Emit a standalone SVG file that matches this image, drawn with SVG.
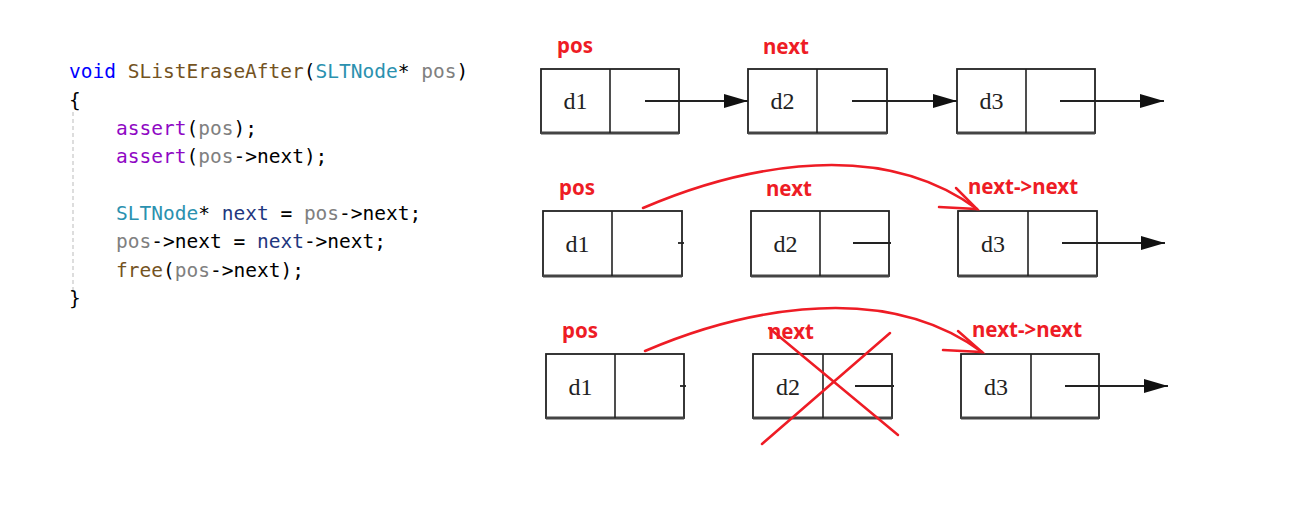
<svg xmlns="http://www.w3.org/2000/svg" width="1306" height="514" viewBox="0 0 1306 514">
<style>
.code{font-family:"DejaVu Sans Mono","Liberation Mono",monospace;font-size:19.5px;fill:#000;}
.kw{fill:#0000ff}.fn{fill:#74531f}.ty{fill:#2b91af}.pa{fill:#808080}.ma{fill:#8f08c4}.lv{fill:#1f377f}
.lbl{font-family:"Noto Sans","Liberation Sans",sans-serif;font-weight:bold;font-size:20.5px;fill:#ee1c25;}
.box{fill:#fff;stroke:#222;stroke-width:1.8;}
.shadow{stroke:#444;stroke-width:3;}
.div{stroke:#222;stroke-width:1.6;}
.dt{font-family:"Liberation Serif",serif;font-size:24px;fill:#222;text-anchor:middle;}
.ptr{stroke:#222;stroke-width:1.8;fill:none;}
.red{stroke:#ee1c25;stroke-width:2.5;fill:none;stroke-linecap:round;}
</style>
<defs>
<marker id="ah" markerUnits="userSpaceOnUse" markerWidth="26" markerHeight="16" refX="24" refY="8" orient="auto">
<polygon points="0,1 24,8 0,15" fill="#111"/>
</marker>
</defs>
<rect width="1306" height="514" fill="#fff"/>

<g id="code">
<line x1="73" y1="112" x2="73" y2="292" stroke="#bbb" stroke-width="1" stroke-dasharray="4,3"/>
<text class="code" x="69" y="78"><tspan class="kw">void</tspan> <tspan class="fn">SListEraseAfter</tspan>(<tspan class="ty">SLTNode</tspan>* <tspan class="pa">pos</tspan>)</text>
<text class="code" x="69" y="107">{</text>
<text class="code" x="116" y="135"><tspan class="ma">assert</tspan>(<tspan class="pa">pos</tspan>);</text>
<text class="code" x="116" y="163"><tspan class="ma">assert</tspan>(<tspan class="pa">pos</tspan>-&gt;next);</text>
<text class="code" x="116" y="220"><tspan class="ty">SLTNode</tspan>* <tspan class="lv">next</tspan> = <tspan class="pa">pos</tspan>-&gt;next;</text>
<text class="code" x="116" y="248"><tspan class="pa">pos</tspan>-&gt;next = <tspan class="lv">next</tspan>-&gt;next;</text>
<text class="code" x="116" y="277"><tspan class="fn">free</tspan>(<tspan class="pa">pos</tspan>-&gt;next);</text>
<text class="code" x="69" y="305">}</text>
</g>

<!-- Row 1 -->
<g id="r1n1">
<rect class="box" x="541" y="69" width="138" height="64"/>
<line class="shadow" x1="541" y1="133" x2="679" y2="133"/>
<line class="div" x1="610" y1="69" x2="610" y2="133"/>
<text class="dt" x="575.5" y="109">d1</text>
<text class="lbl" x="557" y="53">pos</text>
</g>
<g id="r1n2">
<rect class="box" x="748" y="69" width="139" height="64"/>
<line class="shadow" x1="748" y1="133" x2="887" y2="133"/>
<line class="div" x1="817" y1="69" x2="817" y2="133"/>
<text class="dt" x="782.5" y="109">d2</text>
<text class="lbl" x="763" y="54">next</text>
</g>
<g id="r1n3">
<rect class="box" x="957" y="69" width="138" height="64"/>
<line class="shadow" x1="957" y1="133" x2="1095" y2="133"/>
<line class="div" x1="1026" y1="69" x2="1026" y2="133"/>
<text class="dt" x="991.5" y="109">d3</text>
</g>

<!-- Row 2 -->
<g id="r2n1">
<rect class="box" x="543" y="211" width="139" height="65"/>
<line class="shadow" x1="543" y1="276" x2="682" y2="276"/>
<line class="div" x1="612" y1="211" x2="612" y2="276"/>
<line class="ptr" x1="678" y1="243" x2="684" y2="243"/>
<text class="dt" x="577.5" y="252">d1</text>
<text class="lbl" x="559" y="195">pos</text>
</g>
<g id="r2n2">
<rect class="box" x="751" y="211" width="138" height="65"/>
<line class="shadow" x1="751" y1="276" x2="889" y2="276"/>
<line class="div" x1="820" y1="211" x2="820" y2="276"/>
<text class="dt" x="785.5" y="252">d2</text>
<text class="lbl" x="766" y="196">next</text>
</g>
<g id="r2n3">
<rect class="box" x="958" y="211" width="139" height="65"/>
<line class="shadow" x1="958" y1="276" x2="1097" y2="276"/>
<line class="div" x1="1028" y1="211" x2="1028" y2="276"/>
<text class="dt" x="993" y="252">d3</text>
<text class="lbl" x="968" y="194">next-&gt;next</text>
</g>

<!-- Row 3 -->
<g id="r3n1">
<rect class="box" x="546" y="354" width="138" height="64"/>
<line class="shadow" x1="546" y1="418" x2="684" y2="418"/>
<line class="div" x1="615" y1="354" x2="615" y2="418"/>
<line class="ptr" x1="680" y1="386" x2="686" y2="386"/>
<text class="dt" x="580.5" y="395">d1</text>
<text class="lbl" x="562" y="338">pos</text>
</g>
<g id="r3n2">
<rect class="box" x="753" y="354" width="139" height="64"/>
<line class="shadow" x1="753" y1="418" x2="892" y2="418"/>
<line class="div" x1="823" y1="354" x2="823" y2="418"/>
<text class="dt" x="788" y="395">d2</text>
<text class="lbl" x="768" y="339">next</text>
</g>
<g id="r3n3">
<rect class="box" x="961" y="354" width="138" height="64"/>
<line class="shadow" x1="961" y1="418" x2="1099" y2="418"/>
<line class="div" x1="1031" y1="354" x2="1031" y2="418"/>
<text class="dt" x="996" y="395">d3</text>
<text class="lbl" x="972" y="337">next-&gt;next</text>
</g>

<g id="connectors">
<line class="ptr" x1="645" y1="101" x2="748" y2="101" marker-end="url(#ah)"/>
<line class="ptr" x1="852" y1="101" x2="957" y2="101" marker-end="url(#ah)"/>
<line class="ptr" x1="1060" y1="101" x2="1164" y2="101" marker-end="url(#ah)"/>
<line class="ptr" x1="853" y1="243" x2="891" y2="243"/>
<line class="ptr" x1="1062" y1="243" x2="1165" y2="243" marker-end="url(#ah)"/>
<line class="ptr" x1="855" y1="386" x2="894" y2="386"/>
<line class="ptr" x1="1065" y1="386" x2="1168" y2="386" marker-end="url(#ah)"/>
<path class="red" d="M643,208 C720,175 870,130 977,209"/>
<polyline class="red" points="956,188 977,209 939,207"/>
<path class="red" d="M645,351 C722,318 875,273 982,352"/>
<polyline class="red" points="958,331 982,352 943,350"/>
<line class="red" x1="769" y1="328" x2="898" y2="435"/>
<line class="red" x1="762" y1="444" x2="890" y2="333"/>
</g>
</svg>
